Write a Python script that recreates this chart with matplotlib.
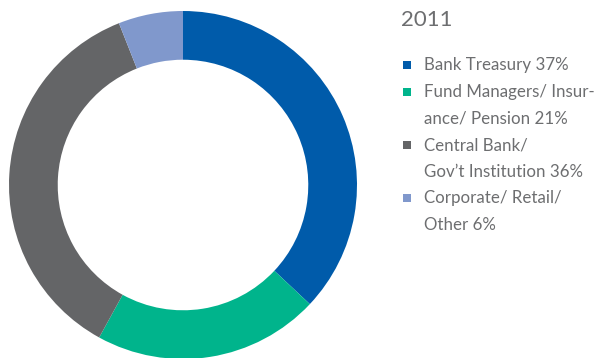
import matplotlib.pyplot as plt

# share of holdings by investor type, 2011
year = "2011"
names = ["Bank Treasury", "Fund Managers/ Insur-\nance/ Pension",
         "Central Bank/\nGov’t Institution", "Corporate/ Retail/\nOther"]
shares = [37, 21, 36, 6]
colors = ["#005baa", "#00b48c", "#646567", "#8098cc"]

W, H = 595, 358
fig = plt.figure(figsize=(W / 100, H / 100), dpi=100)

# donut, centred on the left half
cx, cy, r = 183, 185, 174
ax = fig.add_axes([(cx - r) / W, (H - cy - r) / H, 2 * r / W, 2 * r / H])
ax.pie(shares, colors=colors, startangle=90, counterclock=False, radius=1,
       wedgeprops=dict(width=0.28, linewidth=0, edgecolor="none"))
ax.set_xlim(-1, 1)
ax.set_ylim(-1, 1)
ax.set_aspect("equal")
ax.axis("off")

# legend drawn in pixel coordinates
lg = fig.add_axes([0, 0, 1, 1])
lg.set_xlim(0, W)
lg.set_ylim(H, 0)
lg.axis("off")

text_color = "#6d6e70"
font = "Lato"
lg.text(401.5, 20.5, year, fontsize=16, color=text_color, family=font,
        va="center", ha="left")

line_h = 26.7
y = 65
for name, share, col in zip(names, shares, colors):
    lg.scatter([407], [y], marker="s", s=38, color=col, linewidths=0)
    lines = f"{name} {share}%".split("\n")
    for ln in lines:
        lg.text(424.5, y, ln, fontsize=12.2, color=text_color, family=font,
                va="center", ha="left")
        y += line_h

fig.savefig("out.png", dpi=100)
